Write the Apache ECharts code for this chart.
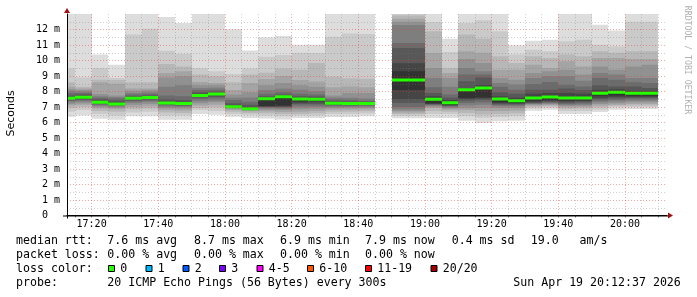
<!DOCTYPE html>
<html><head><meta charset="utf-8">
<script src="https://cdn.jsdelivr.net/npm/echarts@6/dist/echarts.min.js"></script>
<style>html,body{margin:0;padding:0;background:#fff}#c{width:697px;height:297px}</style>
</head><body><div id="c"></div>
<script>
// ---------------- data ----------------
const startTime = '17:12:37';
const endTime = '20:12:37';
const stepMinutes = 5;
const barEndTimes = ['17:15','17:20','17:25','17:30','17:35','17:40','17:45','17:50','17:55','18:00',
  '18:05','18:10','18:15','18:20','18:25','18:30','18:35','18:40','18:45','18:50',
  '18:55','19:00','19:05','19:10','19:15','19:20','19:25','19:30','19:35','19:40',
  '19:45','19:50','19:55','20:00','20:05','20:10'];
const medianRtt = [7.56,7.63,7.30,7.20,7.56,7.62,7.26,7.22,7.75,7.84,
  7.02,6.89,7.54,7.66,7.52,7.50,7.24,7.22,7.22,null,
  8.74,8.74,7.50,7.28,8.12,8.23,7.52,7.41,7.58,7.64,
  7.58,7.58,7.88,7.95,7.88,7.88];
// 20 sorted ping RTTs (ms) per 5-minute step
const pingSets = [
  [6.37,6.7,6.95,7.1,7.2,7.3,7.38,7.44,7.5,7.53,7.58,7.65,7.75,7.9,8.05,8.15,8.3,8.6,9.5,13.6],
  [6.45,6.8,7.0,7.15,7.25,7.35,7.42,7.48,7.52,7.56,7.63,7.7,7.8,7.9,8.0,8.1,8.2,8.3,8.9,13.6],
  [6.25,6.55,6.75,6.9,7.0,7.08,7.15,7.2,7.24,7.27,7.30,7.4,7.5,7.6,7.7,7.84,8.6,8.76,9.52,10.38],
  [6.18,6.45,6.7,6.85,6.95,7.02,7.08,7.12,7.16,7.18,7.20,7.3,7.42,7.55,7.65,7.75,8.5,8.75,8.87,9.73],
  [6.4,6.65,6.85,7.0,7.15,7.28,7.36,7.42,7.48,7.52,7.56,7.62,7.7,7.8,7.9,8.05,8.2,8.6,11.67,13.6],
  [6.4,6.7,6.9,7.05,7.2,7.32,7.4,7.48,7.54,7.58,7.62,7.68,7.75,7.85,7.95,8.1,8.2,8.6,12.05,13.6],
  [6.18,6.45,6.65,6.8,6.92,7.02,7.1,7.16,7.2,7.23,7.26,7.35,7.5,7.75,8.3,8.91,9.2,9.77,10.63,12.8],
  [6.18,6.45,6.62,6.78,6.9,7.0,7.07,7.12,7.16,7.18,7.20,7.3,7.45,7.7,8.4,8.98,9.3,9.62,10.44,12.42],
  [6.55,6.8,6.94,7.1,7.25,7.37,7.5,7.6,7.68,7.72,7.75,7.85,7.95,8.1,8.23,8.4,8.61,9.09,9.52,13.6],
  [6.5,6.75,6.98,7.15,7.3,7.41,7.55,7.65,7.75,7.8,7.84,7.92,8.0,8.12,8.25,8.4,8.55,8.98,9.3,13.6],
  [6.37,6.55,6.7,6.8,6.88,6.93,6.96,6.98,7.0,7.01,7.02,7.1,7.25,7.45,7.6,7.8,8.1,8.6,9.13,12.01],
  [6.29,6.5,6.62,6.72,6.78,6.82,6.85,6.87,6.88,6.89,6.90,7.0,7.15,7.34,7.62,7.95,8.55,9.09,9.5,10.65],
  [6.26,6.45,6.6,6.72,6.82,6.9,6.96,7.0,7.03,7.06,7.54,7.6,7.7,7.85,8.1,8.41,8.8,9.21,10.25,11.5],
  [6.2,6.4,6.55,6.68,6.8,6.88,6.95,7.0,7.05,7.1,7.66,7.72,7.8,7.95,8.18,8.55,9.0,9.48,10.35,11.58],
  [6.29,6.45,6.55,6.7,6.85,6.98,7.1,7.2,7.28,7.35,7.52,7.6,7.7,7.85,8.12,8.4,8.74,9.41,10.5,11.02],
  [6.29,6.45,6.6,6.75,6.88,7.0,7.1,7.2,7.3,7.38,7.50,7.58,7.68,7.8,8.01,8.3,8.65,9.84,10.48,11.02],
  [6.35,6.55,6.7,6.82,6.92,7.0,7.07,7.13,7.18,7.21,7.24,7.3,7.38,7.5,7.62,7.75,8.27,8.95,11.54,13.6],
  [6.35,6.55,6.7,6.82,6.92,7.0,7.07,7.12,7.17,7.2,7.22,7.28,7.36,7.47,7.6,7.9,8.32,8.85,11.75,13.6],
  [6.4,6.58,6.72,6.84,6.94,7.02,7.08,7.13,7.17,7.2,7.22,7.28,7.34,7.41,7.55,7.9,8.27,8.83,11.71,13.6],
  null,
  [6.27,6.42,6.55,6.65,6.75,6.85,7.0,7.26,7.5,8.1,9.3,9.82,10.8,11.13,12.29,12.5,12.7,12.9,13.1,13.6],
  [6.27,6.42,6.55,6.65,6.75,6.85,7.0,7.26,7.5,8.1,9.3,9.82,10.8,11.13,12.29,12.5,12.7,12.9,13.1,13.6],
  [6.29,6.55,6.75,6.94,7.02,7.08,7.13,7.17,7.2,7.25,7.5,7.7,7.9,8.27,8.87,9.52,10.48,11.88,12.48,13.6],
  [6.29,6.55,6.7,6.82,6.9,6.97,7.03,7.08,7.12,7.15,7.28,7.45,7.6,7.8,8.3,8.87,9.2,9.52,10.55,11.41],
  [6.12,6.4,6.61,6.8,6.94,7.1,7.26,7.4,7.5,7.58,8.12,8.23,8.66,9.1,9.52,10.1,10.59,11.67,12.42,13.6],
  [5.97,6.3,6.51,6.75,6.95,7.15,7.3,7.45,7.55,7.62,8.23,8.44,8.91,9.1,9.3,9.84,10.5,11.41,12.6,13.6],
  [6.08,6.35,6.55,6.75,6.94,7.05,7.12,7.18,7.24,7.3,7.52,7.7,7.95,8.3,8.55,8.87,9.41,10.27,11.88,13.6],
  [6.12,6.4,6.6,6.78,6.94,7.05,7.12,7.18,7.23,7.28,7.41,7.6,7.85,8.12,8.45,8.76,9.41,9.84,10.38,10.98],
  [6.76,6.9,7.0,7.08,7.14,7.19,7.23,7.27,7.3,7.4,7.58,7.85,8.12,8.48,8.87,9.19,9.73,10.27,10.7,11.28],
  [6.83,6.95,7.05,7.12,7.18,7.23,7.28,7.33,7.38,7.45,7.64,7.9,8.12,8.61,8.98,9.3,9.52,10.16,10.59,11.34],
  [6.55,6.75,6.88,6.98,7.06,7.13,7.2,7.28,7.35,7.42,7.58,7.9,8.2,8.44,8.98,9.41,9.95,10.38,11.24,13.6],
  [6.55,6.75,6.9,7.0,7.08,7.15,7.22,7.3,7.38,7.44,7.58,7.85,8.1,8.33,8.7,9.09,9.62,10.27,11.34,13.6],
  [6.68,6.83,6.98,7.1,7.2,7.3,7.4,7.5,7.6,7.72,7.88,8.12,8.4,8.87,9.2,9.62,10.16,10.6,11.02,12.31],
  [6.83,6.98,7.08,7.15,7.25,7.35,7.45,7.55,7.65,7.75,7.95,8.15,8.33,8.76,9.1,9.41,10.16,10.5,10.91,11.93],
  [6.87,7.0,7.1,7.2,7.3,7.4,7.5,7.58,7.65,7.72,7.88,8.05,8.33,8.6,8.87,9.62,10.1,10.59,12.5,13.6],
  [6.87,7.0,7.1,7.2,7.3,7.4,7.5,7.58,7.65,7.72,7.88,8.05,8.23,8.55,8.87,9.73,10.1,10.59,12.5,13.6]
];
const xTickLabels = ['17:20','17:40','18:00','18:20','18:40','19:00','19:20','19:40','20:00'];
const yTickLabels = ['0  ','1 m','2 m','3 m','4 m','5 m','6 m','7 m','8 m','9 m','10 m','11 m','12 m'];
const yMax = 13;
const rttStats = ['7.6 ms avg','8.7 ms max','6.9 ms min','7.9 ms now','0.4 ms sd','19.0   am/s'];
const lossStats = ['0.00 % avg','0.00 % max','0.00 % min','0.00 % now'];
const lossLabels = ['0','1','2','3','4-5','6-10','11-19','20/20'];
const lossColors = ['#26ff00','#00b8ff','#0059ff','#7e00ff','#ff00ff','#ff5500','#ff0000','#a00000'];
const probeText = '20 ICMP Echo Pings (56 Bytes) every 300s';
const dateText = 'Sun Apr 19 20:12:37 2026';

// ---------------- layout / style ----------------
const W = 697, H = 297;
const plotLeft = 67, plotRight = 30, gridTop = 14, gridBottom = 81.5;
const MONO = 'DejaVu Sans Mono';
const RED_GRID = 'rgba(230,60,60,0.45)';
const GRAY_GRID = 'rgba(120,120,120,0.35)';

const toMin = s => { const a = s.split(':').map(Number); return a[0]*60 + a[1] + (a[2]||0)/60; };
const pad2 = n => String(n).padStart(2,'0');
const fmtMin = v => pad2(Math.floor(v/60)) + ':' + pad2(Math.round(v%60));
const tStart = toMin(startTime), tEnd = toMin(endTime);
const pxPerMin = (W - plotLeft - plotRight) / (tEnd - tStart);
const gMin = Math.ceil(tStart/stepMinutes)*stepMinutes;
const gMax = Math.floor(tEnd/stepMinutes)*stepMinutes;
const g2Left = plotLeft + (gMin - tStart)*pxPerMin;
const g2Right = plotRight + (tEnd - gMax)*pxPerMin;
const vColors = [];
for (let t = gMin; t <= gMax; t += stepMinutes) vColors.push(xTickLabels.includes(fmtMin(t)) ? RED_GRID : GRAY_GRID);
const smokeGrey = k => { const g = Math.floor(190/10*(10-k))+50; return 'rgb('+g+','+g+','+g+')'; };

const chart = echarts.init(document.getElementById('c'), null, {renderer:'canvas', width:W, height:H});

const seriesData = barEndTimes.map((t,i)=>[toMin(t), i]).filter(d => pingSets[d[1]]);

const option = {
  backgroundColor: '#ffffff',
  animation: false,
  grid: [
    {left: plotLeft, right: plotRight, top: gridTop, bottom: gridBottom, containLabel: false},
    {left: g2Left, right: g2Right, top: gridTop, bottom: gridBottom, containLabel: false}
  ],
  xAxis: [
    {type:'value', gridIndex:0, min:tStart, max:tEnd, z:6,
     axisLine:{show:true, lineStyle:{color:'#000', width:1}},
     axisTick:{show:false}, axisLabel:{show:false}, splitLine:{show:false}},
    {type:'value', gridIndex:1, min:gMin, max:gMax, interval:stepMinutes, z:5,
     axisLine:{show:false},
     axisTick:{show:true, length:2, lineStyle:{color:'rgba(0,0,0,0.5)'}},
     axisLabel:{show:true, margin:4, fontFamily:MONO, fontSize:10, color:'#000',
       formatter: v => { const s = fmtMin(v); return xTickLabels.includes(s) ? s : ''; }},
     splitLine:{show:true, lineStyle:{color:vColors, type:[1,2], width:1}}}
  ],
  yAxis: [
    {type:'value', gridIndex:0, min:0, max:yMax, interval:0.5, z:5,
     axisLine:{show:true, lineStyle:{color:'#000', width:1}},
     axisTick:{show:false},
     axisLabel:{show:true, margin:7, fontFamily:MONO, fontSize:10, color:'#000',
       formatter: v => (Number.isInteger(v) && yTickLabels[v] !== undefined) ? yTickLabels[v] : ''},
     splitLine:{show:true, showMaxLine:false, lineStyle:{color:[RED_GRID, GRAY_GRID], type:[1,2], width:1}}},
    {type:'value', gridIndex:1, min:0, max:yMax, show:false, splitLine:{show:false}}
  ],
  series: [{
    type:'custom', xAxisIndex:0, yAxisIndex:0, clip:true, z:2,
    data: seriesData,
    encode:{x:0},
    renderItem: (params, api) => {
      const end = api.value(0), idx = api.value(1);
      const p = pingSets[idx];
      const x0 = Math.round(api.coord([end - stepMinutes, 0])[0]);
      const x1 = Math.round(api.coord([end, 0])[0]);
      const children = [];
      for (let k = 0; k < 10; k++) {
        const yTop = api.coord([end, p[19-k]])[1];
        const yBot = api.coord([end, p[k]])[1];
        children.push({type:'rect', shape:{x:x0, y:yTop, width:x1-x0, height:yBot-yTop},
          style:{fill:smokeGrey(k+1)}});
      }
      const m = medianRtt[idx];
      if (m != null) {
        const ym = api.coord([end, m])[1];
        children.push({type:'rect', shape:{x:x0, y:ym-1.5, width:x1-x0, height:3}, style:{fill:lossColors[0]}});
      }
      return {type:'group', children};
    }
  }]
};
chart.setOption(option);

// ---------------- annotations / legend ----------------
const g = [];
const txt = (x, y, s, extra) => g.push(Object.assign({type:'text', x, y, silent:true,
  style:{text:s, fontFamily:MONO, fontSize:11.6, fill:'#000', textVerticalAlign:'middle', textAlign:'left'}}, extra||{}));
const rowY = [241, 255, 269, 283];
const colX = [107.3, 194, 280, 365, 451.7, 530.7];
txt(16, rowY[0], 'median rtt:');
rttStats.forEach((s,i)=>txt(colX[i], rowY[0], s));
txt(16, rowY[1], 'packet loss:');
lossStats.forEach((s,i)=>txt(colX[i], rowY[1], s));
txt(16, rowY[2], 'loss color:');
const boxX = [108.5, 146, 183, 219.5, 257, 307.5, 365.5, 431];
lossLabels.forEach((s,i)=>{
  g.push({type:'rect', silent:true, shape:{x:boxX[i], y:rowY[2]-3.5, width:6, height:6},
    style:{fill:lossColors[i], stroke:'#000', lineWidth:1}});
  txt(boxX[i]+11.7, rowY[2], s);
});
txt(16, rowY[3], 'probe:');
txt(107.3, rowY[3], probeText);
txt(513.3, rowY[3], dateText);
// vertical axis title
g.push({type:'text', silent:true, x:11, y:113.5, rotation:Math.PI/2,
  style:{text:'Seconds', fontFamily:'DejaVu Sans', fontSize:11, fill:'#000', textAlign:'center', textVerticalAlign:'middle'}});
// watermark
g.push({type:'text', silent:true, x:687, y:60, rotation:-Math.PI/2,
  style:{text:'RRDTOOL / TOBI OETIKER', fontFamily:MONO, fontSize:8.2, fill:'#b0b0b0', textAlign:'center', textVerticalAlign:'middle'}});
// axis arrows
const o = chart.convertToPixel({gridIndex:0}, [tStart, 0]);
const xe = chart.convertToPixel({gridIndex:0}, [tEnd, 0]);
const yt = chart.convertToPixel({gridIndex:0}, [tStart, yMax]);
g.push({type:'polygon', silent:true, shape:{points:[[o[0]-3, yt[1]-1],[o[0]+3, yt[1]-1],[o[0], yt[1]-6]]}, style:{fill:'#a01010'}});
g.push({type:'line', silent:true, shape:{x1:o[0]+0.5, y1:yt[1], x2:o[0]+0.5, y2:o[1]+3}, style:{stroke:'#000', lineWidth:1}});
g.push({type:'polygon', silent:true, shape:{points:[[xe[0]+1, xe[1]-3],[xe[0]+1, xe[1]+3],[xe[0]+6, xe[1]]]}, style:{fill:'#a01010'}});
g.push({type:'line', silent:true, shape:{x1:o[0]-4, y1:o[1]+0.5, x2:xe[0]+1, y2:o[1]+0.5}, style:{stroke:'#000', lineWidth:1}});
chart.setOption({graphic: g});
</script>
</body></html>
